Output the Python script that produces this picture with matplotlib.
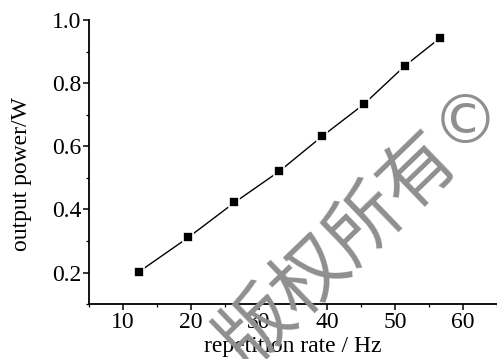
import matplotlib
matplotlib.use("Agg")
import matplotlib.pyplot as plt
from matplotlib.ticker import MultipleLocator

# values
rate_hz = [12.4, 19.6, 26.4, 33.0, 39.3, 45.4, 51.4, 56.6]
power_w = [0.203, 0.311, 0.422, 0.521, 0.632, 0.733, 0.854, 0.943]

plt.rcParams['font.family'] = ['Liberation Serif', 'DejaVu Serif']

fig = plt.figure(figsize=(4.97, 3.59), dpi=100)
ax = fig.add_axes([0.179, 0.153, 0.821, 0.791])

ax.plot(rate_hz, power_w, color='black', linewidth=1.0, zorder=2)
ax.plot(rate_hz, power_w, linestyle='none', marker='s', markersize=7,
        markerfacecolor='black', markeredgecolor='white', markeredgewidth=1.2,
        zorder=3)

ax.set_xlim(5, 65)
ax.set_ylim(0.1, 1.0)
ax.xaxis.set_major_locator(MultipleLocator(10))
ax.xaxis.set_minor_locator(MultipleLocator(5))
ax.yaxis.set_major_locator(MultipleLocator(0.2))
ax.yaxis.set_minor_locator(MultipleLocator(0.1))
ax.yaxis.set_major_formatter(lambda v, p: f"{v:.1f}")

for s in ('top', 'right'):
    ax.spines[s].set_visible(False)
for s in ('left', 'bottom'):
    ax.spines[s].set_linewidth(1.3)

ax.tick_params(axis='both', which='major', direction='out', length=4, width=1.1,
               labelsize=17, pad=1.5)
ax.tick_params(axis='both', which='minor', direction='out', length=2.5, width=0.9)

ax.set_xlabel('repetition rate / Hz', fontsize=17, labelpad=2.5)
ax.set_ylabel('output power/W', fontsize=17)
ax.yaxis.set_label_coords(-0.14, 0.458)

# watermark
fig.text(338 / 497, 1 - 250 / 359, '版权所有', family=['Noto Sans CJK SC', 'DejaVu Sans'],
         fontsize=54, color='#8f8f8f', rotation=44, ha='center', va='center',
         zorder=10)
fig.text(465 / 497, 1 - 124 / 359, '©', family=['DejaVu Sans'],
         fontsize=48, color='#8f8f8f', ha='center', va='center', zorder=10)

fig.savefig('out.png', dpi=100)
